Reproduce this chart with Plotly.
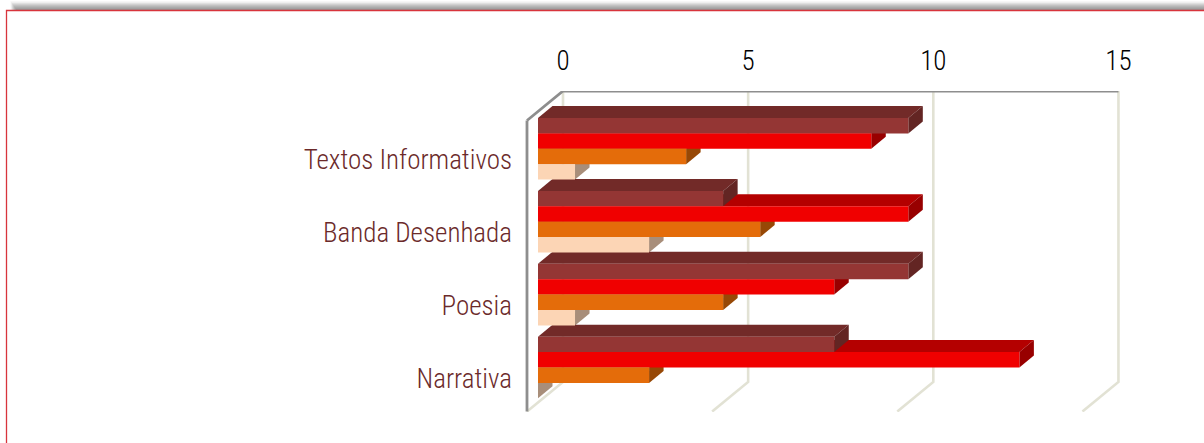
import plotly.graph_objects as go

W, H = 1204, 443
categories = ["Textos Informativos", "Banda Desenhada", "Poesia", "Narrativa"]
series_1 = [10, 5, 10, 8]
series_2 = [9, 10, 8, 13]
series_3 = [4, 6, 5, 3]
series_4 = [1, 3, 1, 0]
tick_labels = [0, 5, 10, 15]
front_colors = ["#943634", "#F00000", "#E46C0A", "#FCD5B5"]
top_colors = ["#722A28", "#B40000", "#AC5208", "#BFA18A"]
side_colors = ["#632523", "#980000", "#974806", "#A88E7A"]
all_series = [series_1, series_2, series_3, series_4]

# Pixel layout of the plot area
PL, PR, PT, PB = 520, 1150, 91, 412
UX, UY = 37.03, 72.9          # px per value unit, px per category
WALL0, FRONT0 = 563.0, 538.0  # px of value 0 on back wall and on bar fronts
LABEL0 = 159.5                # px of first category label
BAR_TOP = 118.0
BAR_H = 15.4
DX, DY = 14.5 / UX, 12 / UY   # depth of bar in axis units
SHIFT = (FRONT0 - WALL0) / UX
WDX, WDY = 36 / UX, 29.5 / UY

wall_range = [(PL - WALL0) / UX, (PR - WALL0) / UX]
front_range = [(PL - FRONT0) / UX, (PR - FRONT0) / UX]
y_range = [(PB - LABEL0) / UY, (PT - LABEL0) / UY]
ypos = list(range(len(categories)))

fig = go.Figure()

def py(p):
    return (p - LABEL0) / UY

# walls
top_y, floor_y = py(91), py(382)
gx, gy = [], []
for t in tick_labels:
    gx += [t, t, t - WDX, None]
    gy += [top_y, floor_y, floor_y + WDY, None]
fig.add_trace(go.Scatter(x=gx, y=gy, mode="lines", line=dict(color="#E2E2D4", width=2.6),
                         hoverinfo="skip", showlegend=False, cliponaxis=False))
fig.add_trace(go.Scatter(x=[-WDX, -WDX, None, -WDX, 0, 15],
                         y=[floor_y + WDY, top_y + WDY, None, top_y + WDY, top_y, top_y],
                         mode="lines", line=dict(color="#8E8E8E", width=2.8),
                         hoverinfo="skip", showlegend=False, cliponaxis=False))

# 3-D faces (top and side), computed from the values
off0 = py(BAR_TOP)
bh = BAR_H / UY
for c in ypos:
    for s in reversed(range(4)):
        v = all_series[s][c]
        x0, x1 = SHIFT, SHIFT + v
        y0 = c + off0 + s * bh
        y1 = y0 + bh
        if v > 0:
            fig.add_trace(go.Scatter(
                x=[x0, x1, x1 + DX, x0 + DX, x0], y=[y0, y0, y0 - DY, y0 - DY, y0],
                mode="lines", fill="toself", fillcolor=top_colors[s],
                line=dict(width=0), hoverinfo="skip", showlegend=False))
        fig.add_trace(go.Scatter(
            x=[x1, x1 + DX, x1 + DX, x1, x1], y=[y0, y0 - DY, y1 - DY, y1, y0],
            mode="lines", fill="toself", fillcolor=side_colors[s],
            line=dict(width=0), hoverinfo="skip", showlegend=False))

# bar fronts
for s in range(4):
    fig.add_trace(go.Bar(y=ypos, x=all_series[s], orientation="h", width=bh,
                         offset=off0 + s * bh, marker=dict(color=front_colors[s], line=dict(width=0)),
                         xaxis="x2", yaxis="y2", showlegend=False))

def X(p): return p / W
def Y(p): return 1 - p / H

shapes = []
# soft shadow above the frame
for i in range(9):
    shapes.append(dict(type="rect", xref="paper", yref="paper", layer="below",
                       x0=X(16 - i * 0.7), x1=1, y0=Y(10), y1=Y(9 - i),
                       fillcolor="rgba(60,60,60,0.085)" if i < 7 else "rgba(60,60,60,0.04)", line=dict(width=0)))
# frame
shapes.append(dict(type="rect", xref="paper", yref="paper", layer="below",
                   x0=X(6.5), x1=1.01, y0=-0.02, y1=Y(10.5), fillcolor="white",
                   line=dict(color="#D8343C", width=1.3)))

FONT = "Roboto Condensed, Open Sans Condensed, DejaVu Sans Condensed, Lato, sans-serif"
fig.update_layout(
    width=W, height=H, margin=dict(l=0, r=0, t=0, b=0),
    paper_bgcolor="white", plot_bgcolor="rgba(0,0,0,0)",
    barmode="overlay", showlegend=False, shapes=shapes,
    xaxis=dict(domain=[PL / W, PR / W], range=wall_range, side="top", anchor="y",
               tickvals=tick_labels, ticktext=[str(t) for t in tick_labels], ticks="",
               showgrid=False, zeroline=False, showline=False, ticklabelstandoff=15,
               tickfont=dict(family=FONT, size=27, color="#000000", weight=300)),
    yaxis=dict(domain=[1 - PB / H, 1 - PT / H], range=y_range, anchor="x",
               tickvals=ypos, ticktext=categories, ticks="", ticklabelstandoff=7,
               showgrid=False, zeroline=False, showline=False,
               tickfont=dict(family=FONT, size=27, color="#6B2A2A", weight=300)),
    xaxis2=dict(domain=[PL / W, PR / W], range=front_range, overlaying="x", visible=False),
    yaxis2=dict(domain=[1 - PB / H, 1 - PT / H], range=y_range, overlaying="y", visible=False),
)

fig.write_html("out.html", config={"displayModeBar": False},
               post_script="document.body.style.margin='0';document.body.style.overflow='hidden';")
